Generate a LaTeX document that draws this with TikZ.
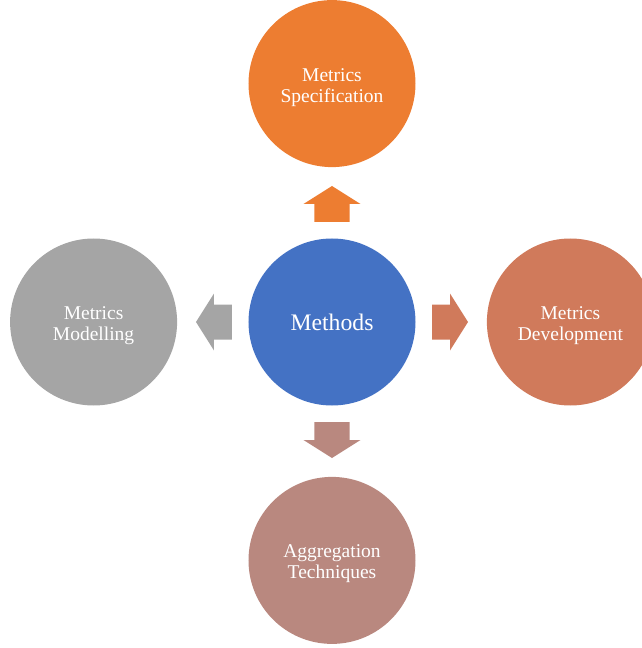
\documentclass[tikz,border=0pt]{standalone}
\usepackage{fontspec}
\setmainfont{Liberation Serif}
\usetikzlibrary{positioning}

\definecolor{methfill}{HTML}{4472C4}
\definecolor{specfill}{HTML}{ED7D31}
\definecolor{devfill}{HTML}{D07A5B}
\definecolor{aggfill}{HTML}{B9887F}
\definecolor{modfill}{HTML}{A5A5A5}

\tikzset{
  bubble/.style={circle, minimum size=167pt, inner sep=0pt, align=center,
    text=white, font=\fontsize{19.5}{21}\selectfont},
}
% a taller first line puts the two lines a bit lower
\newcommand{\toprule}{\rule{0pt}{20pt}}

\begin{document}
\begin{tikzpicture}[x=1pt, y=1pt, node distance=71pt]

\useasboundingbox (-332,-326) rectangle (310,322);

% Draw the centre circle
\node[bubble, fill=methfill, font=\fontsize{23.7}{26}\selectfont] (meth) at (0,0) {Methods};

% Draw the outer circles
\node[bubble, fill=specfill, above=of meth] (spec) {\toprule Metrics\\Specification};
\node[bubble, fill=devfill, right=of meth] (dev) {\toprule Metrics\\Development};
\node[bubble, fill=aggfill, below=of meth] (agg) {\toprule Aggregation\\Techniques};
\node[bubble, fill=modfill, left=of meth] (mod) {\toprule Metrics\\Modelling};

% Draw the block arrows
\foreach \ang/\col in {90/specfill, 0/devfill, -90/aggfill, 180/modfill}{
  \fill[\col, shift={(meth.center)}, rotate=\ang]
    (100,-17.5) -- (118,-17.5) -- (118,-28.5) -- (136,0)
    -- (118,28.5) -- (118,17.5) -- (100,17.5) -- cycle;
}

\end{tikzpicture}
\end{document}
